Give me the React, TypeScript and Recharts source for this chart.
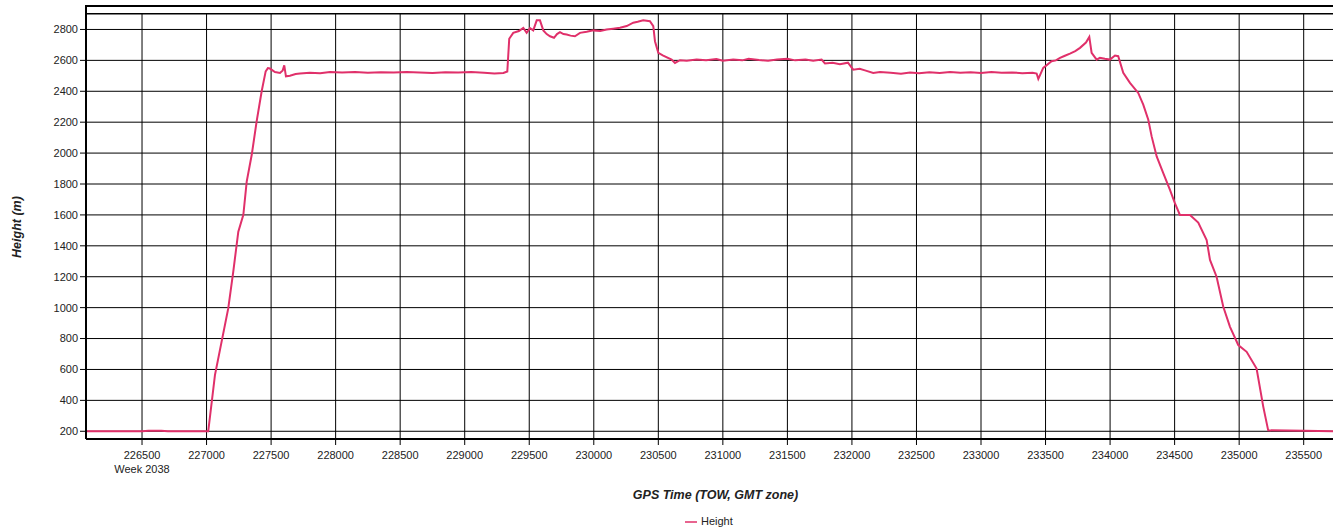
import React from 'react';
import {
  LineChart,
  Line,
  XAxis,
  YAxis,
  CartesianGrid,
  Legend,
  Label,
} from 'recharts';

// GPS time of week (s) and height (m)
const gpsTime = [
  226066, 226500, 226550, 226650, 226700, 227013, 227065, 227168, 227207, 227246,
  227285, 227311, 227350, 227388, 227427, 227458, 227475, 227491, 227530, 227569,
  227590, 227602, 227615, 227646, 227690, 227724, 227800, 227880, 227956, 228050,
  228150, 228250, 228350, 228450, 228550, 228650, 228750, 228850, 228950, 229050,
  229150, 229230, 229300, 229330, 229345, 229376, 229420, 229454, 229480, 229506,
  229531, 229558, 229583, 229609, 229635, 229661, 229692, 229715, 229738, 229765,
  229790, 229820, 229854, 229893, 229945, 229996, 230050, 230100, 230150, 230203,
  230255, 230306, 230340, 230383, 230435, 230461, 230474, 230500, 230538, 230603,
  230629, 230668, 230720, 230797, 230870, 230950, 231000, 231080, 231150, 231200,
  231280, 231350, 231420, 231500, 231560, 231640, 231700, 231765, 231791, 231850,
  231907, 231969, 232010, 232060, 232101, 232165, 232217, 232300, 232380, 232450,
  232520, 232600, 232680, 232760, 232840, 232920, 233000, 233080, 233160, 233240,
  233320, 233400, 233431, 233444, 233482, 233547, 233580, 233612, 233650, 233689,
  233730, 233767, 233813, 233839, 233857, 233896, 233921, 233960, 233999, 234038,
  234063, 234102, 234154, 234218, 234257, 234296, 234322, 234361, 234412, 234464,
  234502, 234541, 234619, 234683, 234748, 234774, 234825, 234877, 234929, 234993,
  235058, 235135, 235187, 235225, 235500, 235820,
];

const heightM = [
  200, 200, 203, 203, 200, 200, 563, 995, 1233, 1492,
  1600, 1816, 1989, 2205, 2400, 2529, 2550, 2547, 2525, 2519,
  2535, 2568, 2497, 2501, 2512, 2515, 2520, 2516, 2525, 2521,
  2524, 2520, 2523, 2521, 2525, 2522, 2519, 2523, 2521, 2524,
  2520, 2515, 2518, 2528, 2740, 2778, 2790, 2810, 2778, 2808,
  2794, 2859, 2859, 2794, 2770, 2756, 2746, 2770, 2783, 2770,
  2767, 2760, 2756, 2778, 2785, 2794, 2790, 2800, 2805, 2811,
  2822, 2844, 2850, 2859, 2853, 2822, 2724, 2649, 2631, 2605,
  2583, 2601, 2598, 2605, 2600, 2608, 2598, 2605, 2600, 2610,
  2602, 2598, 2606, 2610, 2600, 2606, 2598, 2605, 2580, 2585,
  2575, 2585, 2540, 2545, 2535, 2519, 2525, 2520, 2514, 2522,
  2516, 2523, 2518, 2525, 2520, 2523, 2519, 2524, 2520, 2522,
  2517, 2520, 2515, 2480, 2551, 2594, 2600, 2616, 2630, 2644,
  2660, 2681, 2715, 2752, 2649, 2605, 2616, 2610, 2605, 2631,
  2627, 2519, 2454, 2389, 2313, 2216, 2108, 1978, 1871, 1762,
  1676, 1600, 1600, 1550, 1438, 1309, 1200, 1006, 876, 758,
  714, 606, 358, 206, 203, 200,
];

const timeTicks = [
  226500, 227000, 227500, 228000, 228500, 229000, 229500, 230000, 230500, 231000,
  231500, 232000, 232500, 233000, 233500, 234000, 234500, 235000, 235500,
];
const heightTicks = [200, 400, 600, 800, 1000, 1200, 1400, 1600, 1800, 2000, 2200, 2400, 2600, 2800];

const weekLabel = 'Week 2038';

const data = gpsTime.map((t, i) => ({ time: t, height: heightM[i] }));

const FONT = '"Liberation Sans", Arial, sans-serif';
const LINE_COLOR = '#e0306a';

const TimeTick = (props: any) => {
  const { x, y, payload, index } = props;
  return (
    <g>
      <text x={x} y={y} dy={8} textAnchor="middle" fontSize={11} fill="#222" fontFamily={FONT}>
        {payload.value}
      </text>
      {index === 0 && (
        <text x={x} y={y} dy={22} textAnchor="middle" fontSize={11} fill="#222" fontFamily={FONT}>
          {weekLabel}
        </text>
      )}
    </g>
  );
};

const renderYLabel = () => (
  <text
    x={21}
    y={227}
    transform="rotate(-90 21 227)"
    textAnchor="middle"
    fontSize={12.5}
    fontWeight="bold"
    fontStyle="italic"
    fill="#222"
    fontFamily={FONT}
  >
    Height (m)
  </text>
);

export default function App() {
  return (
    <div
      style={{
        position: 'absolute',
        left: 0,
        top: 0,
        width: 1333,
        height: 531,
        overflow: 'hidden',
        background: '#fff',
      }}
    >
      <LineChart
        width={1345}
        height={531}
        data={data}
        margin={{ top: 14, right: 0, left: 0, bottom: 0 }}
      >
        <CartesianGrid stroke="#000" strokeWidth={1} />
        <XAxis
          dataKey="time"
          type="number"
          domain={[226066, 235820]}
          ticks={timeTicks}
          allowDataOverflow
          height={92}
          tick={<TimeTick />}
          tickSize={6}
          tickMargin={6}
          axisLine={{ stroke: '#000', strokeWidth: 2 }}
          tickLine={{ stroke: '#000' }}
        >
          <Label
            value="GPS Time (TOW, GMT zone)"
            position="insideBottom"
            offset={32}
            style={{ fontSize: 12.5, fontWeight: 'bold', fontStyle: 'italic', fill: '#222', fontFamily: FONT }}
          />
        </XAxis>
        <YAxis
          type="number"
          domain={[150, 2900]}
          ticks={heightTicks}
          allowDataOverflow
          width={86}
          tickSize={6}
          tickMargin={2}
          tick={{ fontSize: 11, fill: '#222', fontFamily: FONT }}
          axisLine={{ stroke: '#000', strokeWidth: 2 }}
          tickLine={{ stroke: '#000' }}
          label={renderYLabel}
        />
        <Legend
          layout="horizontal"
          verticalAlign="middle"
          align="center"
          iconSize={12}
          wrapperStyle={{ left: 685, top: 515, width: 'auto', fontSize: 11, fontFamily: FONT }}
          formatter={(value: string) => <span style={{ color: '#222' }}>{value}</span>}
        />
        <Line
          type="linear"
          dataKey="height"
          name="Height"
          stroke={LINE_COLOR}
          strokeWidth={2}
          dot={false}
          legendType="plainline"
          isAnimationActive={false}
        />
      </LineChart>
      <div
        style={{
          position: 'absolute',
          left: 85,
          top: 5,
          width: 1333 - 85,
          height: 9,
          boxSizing: 'border-box',
          borderTop: '2px solid #000',
          borderLeft: '2px solid #000',
          borderBottom: '1px solid #000',
          background: '#fff',
        }}
      />
    </div>
  );
}
